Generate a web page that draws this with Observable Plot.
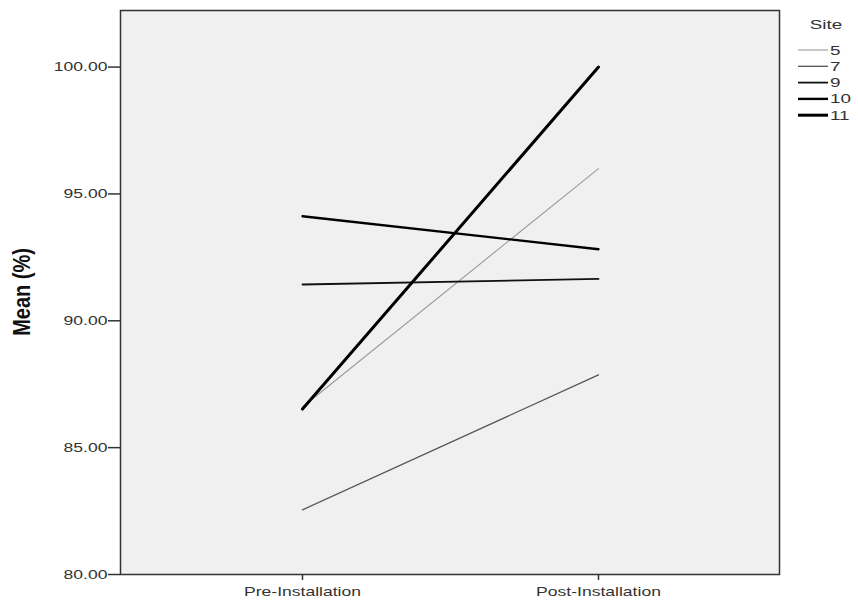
<!DOCTYPE html>
<html>
<head>
<meta charset="utf-8">
<script src="https://cdn.jsdelivr.net/npm/d3@7"></script>
<script src="https://cdn.jsdelivr.net/npm/@observablehq/plot@0.6"></script>
<style>
  body { margin: 0; background: #fff; font-family: "Liberation Sans", Arial, sans-serif; }
  #wrap { position: relative; width: 858px; height: 605px; }
  #legend { position: absolute; left: 760px; top: 0px; }
</style>
</head>
<body>
<div id="wrap"><div id="chart"></div><div id="legend"></div></div>
<script>
const phases = ["Pre-Installation", "Post-Installation"];
const sites = ["5", "7", "9", "10", "11"];
const preValues = [86.6, 82.55, 91.43, 94.12, 86.52];
const postValues = [96.0, 87.87, 91.65, 92.82, 100.0];
const yTicks = [80, 85, 90, 95, 100];
const yLabel = "Mean (%)";
const legendTitle = "Site";
const siteColors = ["#9a9a9a", "#555555", "#111111", "#000000", "#000000"];
const siteWidths = [1.1, 1.3, 1.8, 2.4, 3];
const STRETCH = 1.35;

const data = sites.flatMap((s, i) => [
  {site: s, phase: phases[0], value: preValues[i]},
  {site: s, phase: phases[1], value: postValues[i]}
]);

const chart = Plot.plot({
  width: 858,
  height: 605,
  marginLeft: 120,
  marginRight: 79,
  marginTop: 10,
  marginBottom: 31,
  style: {fontFamily: "'Liberation Sans', Arial, sans-serif", fontSize: "13px", color: "#333", background: "#fff"},
  x: {type: "point", domain: phases, padding: 0.61, label: null},
  y: {domain: [80, 102.23], label: null},
  marks: [
    Plot.frame({fill: "#f0f0f0", stroke: "none"}),
    ...sites.map((s, i) => Plot.line(data.filter(d => d.site === s), {
      x: "phase", y: "value", stroke: siteColors[i], strokeWidth: siteWidths[i]
    })),
    Plot.frame({stroke: "#333", strokeWidth: 1.5}),
    Plot.axisY({ticks: yTicks, tickFormat: d3.format(".2f"), tickSize: 12, tickPadding: 1, fontSize: 13, stroke: "#333", strokeWidth: 1.5, label: null}),
    Plot.axisX({tickSize: 6, tickPadding: 6, fontSize: 13, stroke: "#333", strokeWidth: 1.5, label: null})
  ]
});
document.getElementById("chart").appendChild(chart);

// horizontally stretch tick text to mimic the reference rendering
function stretch(sel, scale) {
  d3.select(chart).selectAll(sel).each(function() {
    const t = d3.select(this);
    let tr = t.attr("transform");
    if (!tr) {
      const x = +t.attr("x") || 0, y = +t.attr("y") || 0;
      t.attr("x", null).attr("y", null);
      tr = `translate(${x},${y})`;
    }
    t.attr("transform", tr + " " + scale);
  });
}
stretch("g[aria-label='y-axis tick label'] text, g[aria-label='x-axis tick label'] text", `scale(${STRETCH},1)`);

// y-axis title, centred on the y scale's range
const yr = chart.scale("y").range;
const yc = (yr[0] + yr[1]) / 2;
d3.select(chart).append("text")
  .attr("transform", `translate(22,${yc}) rotate(-90) scale(1,1.2)`)
  .attr("text-anchor", "middle").attr("dy", "0.35em")
  .attr("font-weight", "bold").attr("font-size", 20).attr("fill", "#111")
  .text(yLabel);

// legend
const lg = d3.select("#legend").append("svg").attr("width", 98).attr("height", 130)
  .style("font-family", "'Liberation Sans', Arial, sans-serif").style("font-size", "13px");
lg.append("text").attr("text-anchor", "middle").attr("fill", "#333")
  .attr("transform", `translate(66,29) scale(1.45,1)`).text(legendTitle);
sites.forEach((s, i) => {
  const y = 50 + i * 16.3;
  lg.append("line").attr("x1", 38).attr("x2", 68).attr("y1", y).attr("y2", y)
    .attr("stroke", siteColors[i]).attr("stroke-width", siteWidths[i]);
  lg.append("text").attr("fill", "#333")
    .attr("transform", `translate(70,${y + 4.5}) scale(1.45,1)`).text(s);
});
</script>
</body>
</html>
